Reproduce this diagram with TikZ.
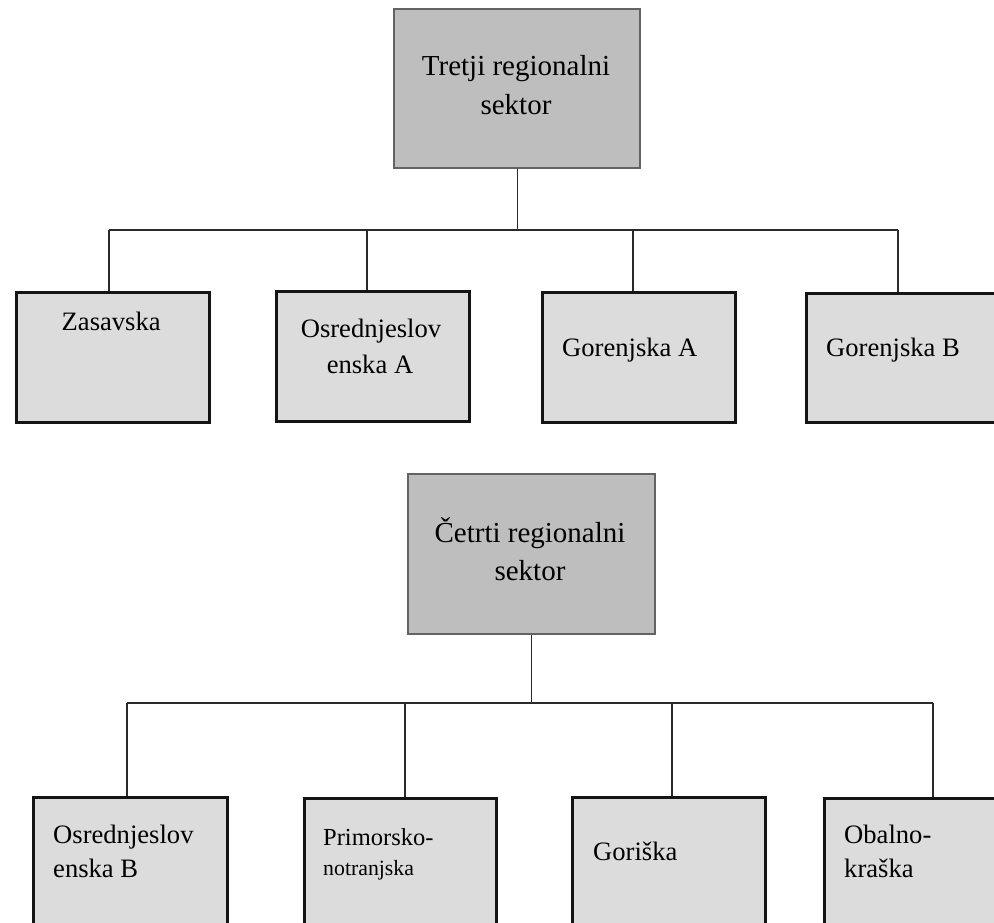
\documentclass[tikz,border=0pt]{standalone}
\usepackage{fontspec}
\setmainfont{Liberation Serif}
\definecolor{topfill}{HTML}{BEBEBE}
\definecolor{topline}{HTML}{636363}
\definecolor{rowfill}{HTML}{DCDCDC}
\definecolor{rowline}{HTML}{141414}
\definecolor{connline}{HTML}{2A2A2A}
\begin{document}
\begin{tikzpicture}[x=1pt,y=-1pt,
  topbox/.style={draw=topline, fill=topfill, line width=2.2pt, anchor=north west, inner sep=0pt},
  rowbox/.style={draw=rowline, fill=rowfill, line width=2.6pt, anchor=north west, inner sep=0pt},
  conn/.style={draw=connline, line width=1.2pt},
  toptext/.style={inner sep=0pt, anchor=base, font=\fontsize{29}{34}\selectfont},
  rowtext/.style={inner sep=0pt, anchor=base west, font=\fontsize{26.6}{30}\selectfont},
  smalltext/.style={inner sep=0pt, anchor=base west, font=\fontsize{24.5}{28}\selectfont},
  tinytext/.style={inner sep=0pt, anchor=base west, font=\fontsize{21.8}{25}\selectfont}]
\useasboundingbox (0,0) rectangle (994,923);
\clip (0,0) rectangle (994,923);
\fill[white] (0,0) rectangle (994,923);

% ---- third regional sector ----
\node[topbox, minimum width=246pt, minimum height=159pt] (t3) at (393,8) {};
\node[rowbox, minimum width=193pt, minimum height=130pt] (zas) at (15,291) {};
\node[rowbox, minimum width=193pt, minimum height=130pt] (osa) at (275,290) {};
\node[rowbox, minimum width=193pt, minimum height=130pt] (goa) at (541,291) {};
\node[rowbox, minimum width=200pt, minimum height=129pt] (gob) at (805,292) {};

\node[toptext] (t3a) at (516,76) {Tretji regionalni};
\node[toptext] (t3b) at (516,115) {sektor};
\node[rowtext] (zast) at (61.5,330) {Zasavska};
\node[rowtext, anchor=base] (osat1) at (371,337) {Osrednjeslov};
\node[rowtext, anchor=base] (osat2) at (370,373) {enska A};
\node[rowtext] (goat) at (562,356) {Gorenjska A};
\node[rowtext] (gobt) at (826,356) {Gorenjska B};

\coordinate (h1) at (0,230);
\coordinate (a1) at (109,230);
\coordinate (a2) at (367,230);
\coordinate (a3) at (633,230);
\coordinate (a4) at (898,230);
\draw[conn] (t3.south) -- (t3.south |- h1);
\draw[conn] (a1) -- (a4);
\draw[conn] (a1) -- (zas.north -| a1);
\draw[conn] (a2) -- (osa.north -| a2);
\draw[conn] (a3) -- (goa.north -| a3);
\draw[conn] (a4) -- (gob.north -| a4);

% ---- fourth regional sector ----
\node[topbox, minimum width=247pt, minimum height=160pt] (t4) at (407,473) {};
\node[rowbox, minimum width=194pt, minimum height=160pt] (osb) at (32,796) {};
\node[rowbox, minimum width=192pt, minimum height=160pt] (pri) at (303,797) {};
\node[rowbox, minimum width=193pt, minimum height=160pt] (gor) at (571,796) {};
\node[rowbox, minimum width=200pt, minimum height=160pt] (oba) at (823,797) {};

\node[toptext] (t4a) at (530,542) {Četrti regionalni};
\node[toptext] (t4b) at (530,580) {sektor};
\node[rowtext] (osbt1) at (53,843) {Osrednjeslov};
\node[rowtext] (osbt2) at (53,877) {enska B};
\node[smalltext] (prit1) at (323,845) {Primorsko-};
\node[tinytext] (prit2) at (323,875) {notranjska};
\node[rowtext] (gort) at (593,860) {Goriška};
\node[rowtext] (obat1) at (844,843) {Obalno-};
\node[rowtext] (obat2) at (844,877) {kraška};

\coordinate (h2) at (0,703);
\coordinate (b1) at (127,703);
\coordinate (b2) at (405,703);
\coordinate (b3) at (672,703);
\coordinate (b4) at (933,703);
\draw[conn] (t4.south) -- (t4.south |- h2);
\draw[conn] (b1) -- (b4);
\draw[conn] (b1) -- (osb.north -| b1);
\draw[conn] (b2) -- (pri.north -| b2);
\draw[conn] (b3) -- (gor.north -| b3);
\draw[conn] (b4) -- (oba.north -| b4);
\end{tikzpicture}
\end{document}
